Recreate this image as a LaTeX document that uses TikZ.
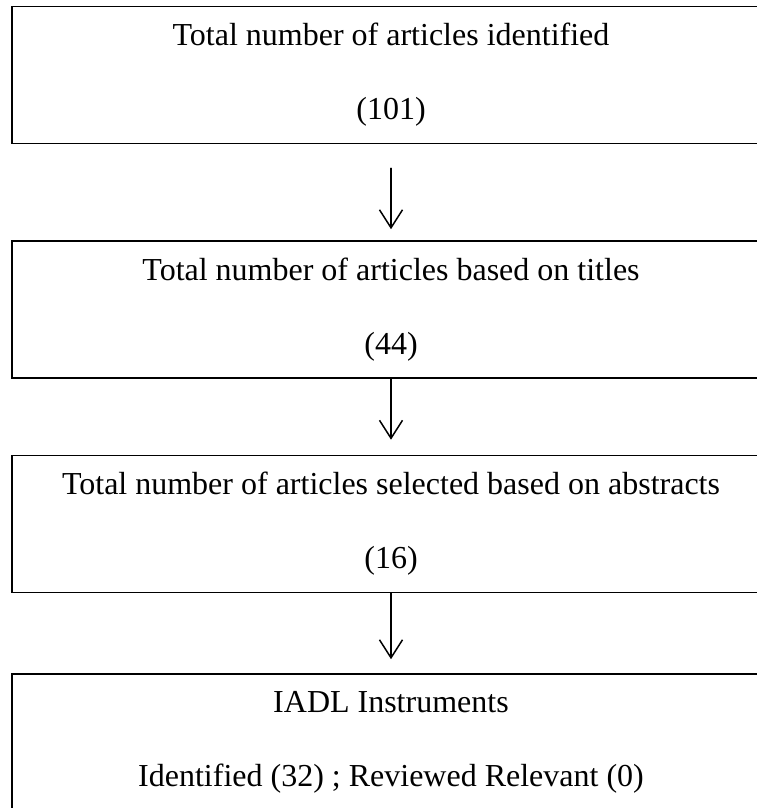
\documentclass[tikz,border=0pt]{standalone}
\usepackage{fontspec}
\setmainfont{Liberation Serif}
\usetikzlibrary{arrows.meta}
\tikzset{
  stagebox/.style={draw, line width=1.6pt, minimum width=758pt, minimum height=137pt,
    inner sep=0pt, align=center, font=\fontsize{32}{74}\selectfont},
  flow/.style={->, line width=1.5pt, line cap=round},
}
\begin{document}
\begin{tikzpicture}[x=1pt,y=-1pt,>={Straight Barb[length=18pt,width=23pt]}]
  \useasboundingbox (0,0) rectangle (757,808);
  \node[stagebox] (ident) at (391,75) {Total number of articles identified\\(101)};
  \node[stagebox] (titles) at (391,309.5) {Total number of articles based on titles\\(44)};
  \node[stagebox] (abstr) at (391,524) {Total number of articles selected based on abstracts\\(16)};
  \node[stagebox] (iadl) at (391,742.5) {IADL Instruments\\Identified (32) ; Reviewed Relevant (0)};
  \draw[flow, shorten <=24pt, shorten >=11pt] (ident) -- (titles);
  \draw[flow, shorten >=15pt] (titles) -- (abstr);
  \draw[flow, shorten >=14pt] (abstr) -- (iadl);
\end{tikzpicture}
\end{document}
